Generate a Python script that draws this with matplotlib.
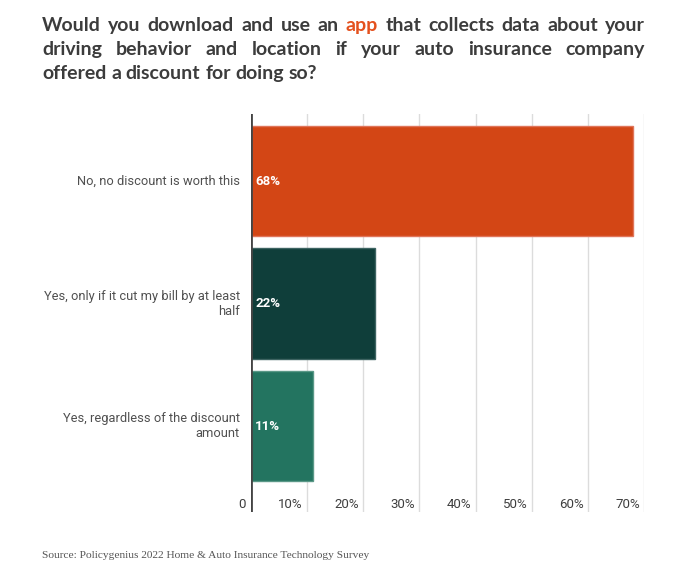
import matplotlib.pyplot as plt
from matplotlib.transforms import blended_transform_factory

categories = [
    "No, no discount is worth this",
    "Yes, only if it cut my bill by at least\nhalf",
    "Yes, regardless of the discount\namount",
]
values = [68, 22, 11]
bar_colors = ["#D34615", "#0F3E3A", "#237460"]
edge_colors = ["#E0755A", "#3E6462", "#5A9887"]
xticks = [0, 10, 20, 30, 40, 50, 60, 70]
xtick_labels = ["0", "10%", "20%", "30%", "40%", "50%", "60%", "70%"]
title_lines = [
    "Would you download and use an app that collects data about your",
    "driving behavior and location if your auto insurance company",
    "offered a discount for doing so?",
]
highlight = "app"
source = "Source: Policygenius 2022 Home & Auto Insurance Technology Survey"

W, H = 683, 567
fig = plt.figure(figsize=(W / 100, H / 100), dpi=100)
ax = fig.add_axes([251 / W, 1 - 512 / H, (644 - 251) / W, (512 - 114) / H])

ypos = list(range(len(values)))
ax.barh(ypos, values, height=0.9, color=bar_colors, edgecolor=edge_colors,
        linewidth=1, zorder=3)
ax.set_xlim(0, 70)
ax.set_ylim(2.70, -0.547)

for x in xticks[1:]:
    ax.axvline(x, color="#dcdcdc", lw=1, zorder=1)
ax.axvline(0, color="#444444", lw=2, zorder=4)

for s in ax.spines.values():
    s.set_visible(False)
ax.set_xticks([])
ax.set_yticks([])

trans = blended_transform_factory(ax.transData, ax.transAxes)
for x, lab in zip(xticks, xtick_labels):
    off = -4 if x == 0 else -3
    ax.annotate(lab, xy=(x, 0.0176), xycoords=trans, xytext=(off, 0),
                textcoords="offset points", ha="right", va="center",
                fontsize=9.5, family="Roboto", color="#3e3e3e")

for y, cat in zip(ypos, categories):
    ax.annotate(cat, xy=(0, y), xycoords="data", xytext=(-8, 0),
                textcoords="offset points", ha="right", va="center",
                multialignment="right", fontsize=9.3, family="Roboto",
                color="#505050", linespacing=1.2, annotation_clip=False)

for y, v in zip(ypos, values):
    ax.annotate(f"{v}%", xy=(0, y), xycoords="data", xytext=(3, 0),
                textcoords="offset points", ha="left", va="center",
                fontsize=9.5, family="Roboto", fontweight="bold",
                color="white", zorder=5)

# title, justified like the original
renderer = fig.canvas.get_renderer()
left, right = 42, 645
line_base = [31, 55, 79]
tkw = dict(fontsize=14, family="Lato", fontweight="bold", va="baseline", ha="left")


def width_px(s):
    t = fig.text(0, 0, s, **tkw)
    w = t.get_window_extent(renderer).width
    t.remove()
    return w


space = width_px("x x") - width_px("xx")
for i, line in enumerate(title_lines):
    words = line.split()
    widths = [width_px(w) for w in words]
    last = i == len(title_lines) - 1
    gap = space if last else (right - left - sum(widths)) / (len(words) - 1)
    x = left
    for w, wd in zip(words, widths):
        col = "#E4511E" if w == highlight else "#3c3c3c"
        fig.text(x / W, 1 - line_base[i] / H, w, color=col, **tkw)
        x += wd + gap

fig.text(42 / W, 1 - 555 / H, source, fontsize=8.2, family="Liberation Serif",
         color="#555555", va="center", ha="left")

fig.savefig("out.png", dpi=100)
